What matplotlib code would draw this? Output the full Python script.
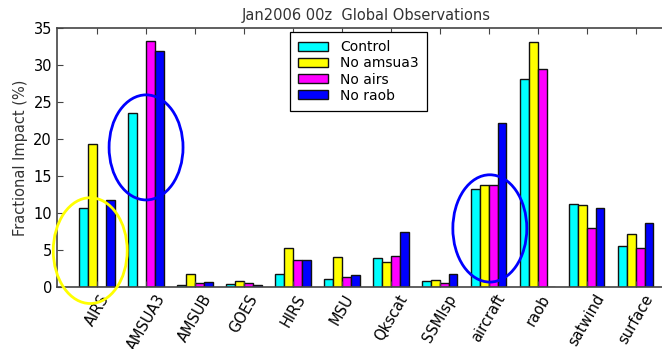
import numpy as np
import matplotlib
matplotlib.use("Agg")
import matplotlib.pyplot as plt
from matplotlib.patches import Ellipse

# Observation types and fractional impact per experiment (%)
obs_types = ["AIRS", "AMSUA3", "AMSUB", "GOES", "HIRS", "MSU",
             "Qkscat", "SSMIsp", "aircraft", "raob", "satwind", "surface"]
control   = [10.7, 23.5, 0.2, 0.4, 1.8, 1.0, 3.9, 0.8, 13.2, 28.1, 11.2, 5.5]
no_amsua3 = [19.3, 0.0, 1.8, 0.8, 5.2, 4.1, 3.4, 0.9, 13.8, 33.1, 11.0, 7.2]
no_airs   = [0.0, 33.2, 0.5, 0.5, 3.6, 1.3, 4.2, 0.5, 13.8, 29.4, 7.9, 5.3]
no_raob   = [11.7, 31.9, 0.7, 0.3, 3.6, 1.6, 7.4, 1.7, 22.1, 0.0, 10.6, 8.6]

series = [("Control", control, "#00ffff"),
          ("No amsua3", no_amsua3, "#ffff00"),
          ("No airs", no_airs, "#ff00ff"),
          ("No raob", no_raob, "#0000ff")]

fig = plt.figure(figsize=(6.62, 3.49), dpi=100)
ax = fig.add_axes([0.086, 0.178, 0.935, 0.742])

x = np.arange(len(obs_types))
w = 0.18
for k, (name, vals, col) in enumerate(series):
    ax.bar(x + (k - 2) * w, vals, w, align="edge", color=col,
           edgecolor="#111111", linewidth=1.0, label=name)

ax.set_xlim(-0.82, 11.82)
ax.set_ylim(0, 35)
ax.set_yticks(np.arange(0, 36, 5))
ax.set_xticks(x)
ax.set_xticklabels(obs_types, rotation=60, ha="center", fontsize=10)
ax.tick_params(axis="both", direction="in", top=True, right=True,
               labelsize=10.5, length=4, color="#444444")
for s in ax.spines.values():
    s.set_color("#444444")
    s.set_linewidth(1.2)

ax.set_ylabel("Fractional Impact (%)", fontsize=10.5, color="#333333")
ax.set_title("Jan2006 00z  Global Observations", fontsize=10.5, pad=6,
             color="#333333")

leg = ax.legend(loc="upper left", bbox_to_anchor=(290 / 662, 1 - 32 / 349),
                bbox_transform=fig.transFigure, fancybox=False,
                edgecolor="black", fontsize=10, handlelength=2.1,
                handleheight=0.6, labelspacing=0.15, borderpad=0.6,
                handletextpad=0.9, borderaxespad=0, framealpha=1)
leg.get_frame().set_linewidth(0.9)

# highlight rings around selected groups
rings = [(-0.14, 4.9, 1.51, 14.3, "#ffff00"),
         (1.0, 18.85, 1.51, 14.2, "#0000ff"),
         (8.02, 7.9, 1.51, 14.5, "#0000ff")]
for cx, cy, ew, eh, col in rings:
    ax.add_patch(Ellipse((cx, cy), ew, eh, fill=False, edgecolor=col,
                         linewidth=2.0, clip_on=False, zorder=5))

fig.savefig("out.png", dpi=100)
